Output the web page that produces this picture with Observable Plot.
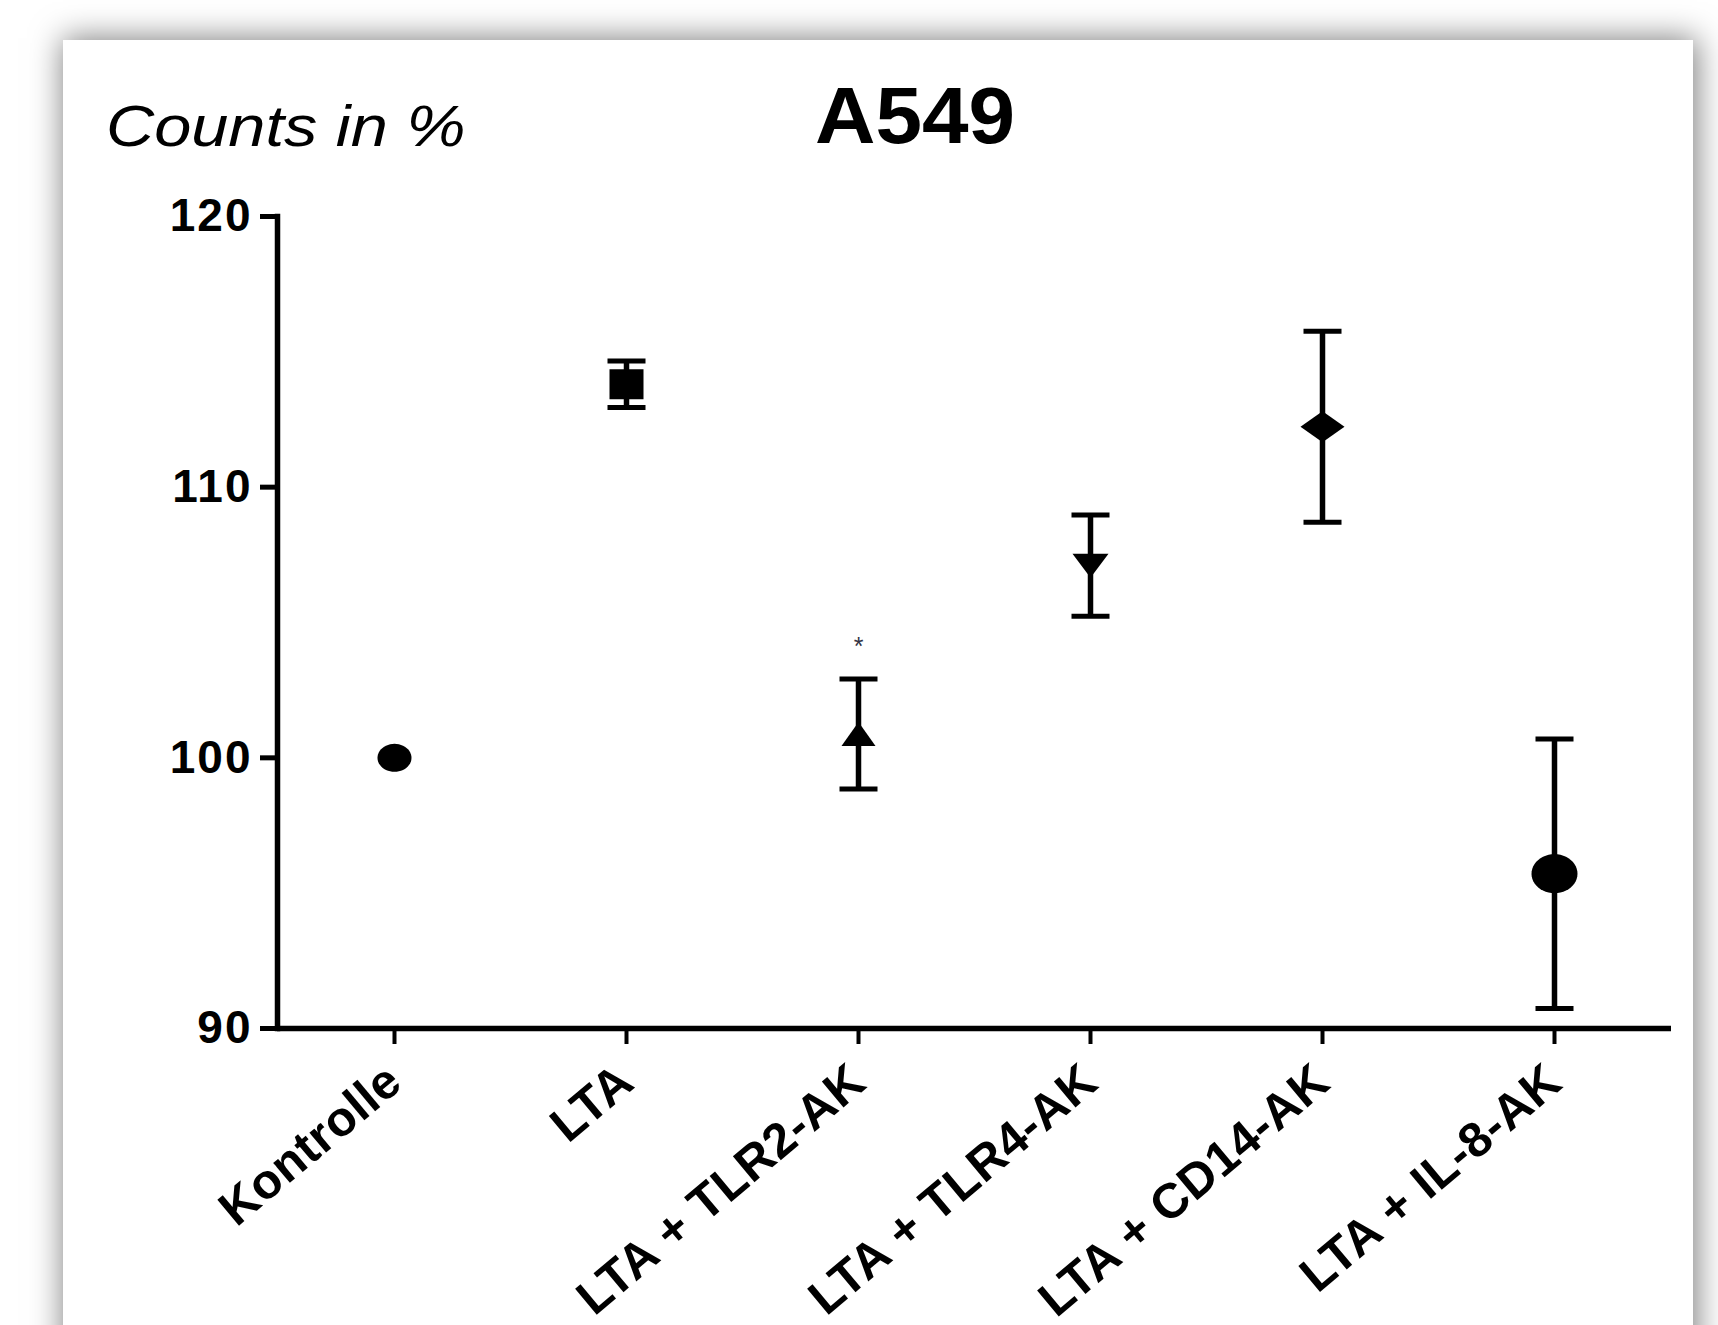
<!DOCTYPE html>
<html>
<head>
<meta charset="utf-8">
<script src="https://cdn.jsdelivr.net/npm/d3@7"></script>
<script src="https://cdn.jsdelivr.net/npm/@observablehq/plot@0.6"></script>
<style>
  html, body { margin: 0; padding: 0; background: #fff; width: 1718px; height: 1325px; overflow: hidden; }
  #card { position: absolute; left: 63px; top: 40px; width: 1630px; height: 1320px; background: #fff;
          box-shadow: 2px 0 30px 2px rgba(0,0,0,0.5); }
  #ylabel { position: absolute; left: 43px; top: 57px; font: italic 58px "Liberation Sans", Arial, sans-serif;
            line-height: 57px; white-space: nowrap; transform: scaleX(1.15); transform-origin: left center; color: #000; }
  #title { position: absolute; left: 852px; top: 37px; font: bold 79px "Liberation Sans", Arial, sans-serif;
           line-height: 78px; white-space: nowrap; transform: translateX(-50%) scaleX(1.06); color: #000; }
  #chart { position: absolute; left: 0; top: 0; }
  #chart g[aria-label="y-axis tick label"] text { letter-spacing: 2px; }
  #chart g[aria-label="x-axis tick label"] text { letter-spacing: 0.5px; }
</style>
</head>
<body>
<div id="card">
  <div id="ylabel">Counts in %</div>
  <div id="title">A549</div>
  <div id="chart"></div>
</div>
<script>
// ---- data ----
const categories = ["Kontrolle", "LTA", "LTA + TLR2-AK", "LTA + TLR4-AK", "LTA + CD14-AK", "LTA + IL-8-AK"];
const means = [100, 113.8, 100.88, 107.1, 112.23, 95.72];
const sems = [0, 0.86, 2.03, 1.87, 3.53, 4.98];
const significance = ["", "", "*", "", "", ""];
const yTicks = [90, 100, 110, 120];

// ---- marker shapes (style) ----
function ellipse(w, h) {
  return { draw(ctx) { const n = 48; for (let k = 0; k < n; k++) { const a = 2 * Math.PI * k / n; const x = w / 2 * Math.cos(a), y = h / 2 * Math.sin(a); if (k) ctx.lineTo(x, y); else ctx.moveTo(x, y); } ctx.closePath(); } };
}
function rect(w, h) { return { draw(ctx) { ctx.moveTo(-w/2, -h/2); ctx.lineTo(w/2, -h/2); ctx.lineTo(w/2, h/2); ctx.lineTo(-w/2, h/2); ctx.closePath(); } }; }
function triUp(w, h) { return { draw(ctx) { ctx.moveTo(0, -h/2); ctx.lineTo(w/2, h/2); ctx.lineTo(-w/2, h/2); ctx.closePath(); } }; }
function triDown(w, h) { return { draw(ctx) { ctx.moveTo(0, h/2); ctx.lineTo(w/2, -h/2); ctx.lineTo(-w/2, -h/2); ctx.closePath(); } }; }
function diamond(w, h) { return { draw(ctx) { ctx.moveTo(0, -h/2); ctx.lineTo(w/2, 0); ctx.lineTo(0, h/2); ctx.lineTo(-w/2, 0); ctx.closePath(); } }; }
const shapes = [ellipse(34, 28), rect(34, 30), triUp(34, 24), triDown(36, 24), diamond(44, 31), ellipse(46, 39)];
const capShape = rect(38, 5);

const rows = categories.map((c, i) => ({ cat: c, mean: means[i], lo: means[i] - sems[i], hi: means[i] + sems[i], sem: sems[i], sig: significance[i] }));
const withErr = rows.filter(d => d.sem > 0);

const font = '"Liberation Sans", Arial, sans-serif';
const chart = Plot.plot({
  width: 1630,
  height: 1285,
  marginLeft: 214,
  marginRight: 22,
  marginTop: 176,
  marginBottom: 297,
  style: { fontFamily: font, fontSize: "45px", fontWeight: "bold", background: "transparent", color: "#000", overflow: "visible" },
  x: { type: "point", domain: categories, padding: 0.5, label: null },
  y: { domain: [90, 120], label: null },
  marks: [
    Plot.axisY({ ticks: yTicks, tickSize: 17, tickPadding: 8, strokeWidth: 5, label: null, fontSize: 46 }),
    Plot.axisX({ tickSize: 16, tickPadding: 30, tickRotate: -40, strokeWidth: 4, label: null, fontSize: 49 }),
    Plot.frame({ anchor: "left", strokeWidth: 5.5 }),
    Plot.ruleY([90], { strokeWidth: 5.5 }),
    Plot.ruleX(withErr, { x: "cat", y1: "lo", y2: "hi", strokeWidth: 5.5 }),
    Plot.dot(withErr, { x: "cat", y: "lo", symbol: capShape, r: 5, fill: "#000", stroke: "none" }),
    Plot.dot(withErr, { x: "cat", y: "hi", symbol: capShape, r: 5, fill: "#000", stroke: "none" }),
    ...categories.map((c, i) => Plot.dot(rows.filter(d => d.cat === c), { x: "cat", y: "mean", symbol: shapes[i], r: 10, fill: "#000", stroke: "none" })),
    Plot.text(rows.filter(d => d.sig), { x: "cat", y: "hi", text: "sig", dy: -32, fontSize: 25, fontWeight: "normal", fill: "#334" })
  ]
});
document.getElementById("chart").appendChild(chart);
</script>
</body>
</html>
